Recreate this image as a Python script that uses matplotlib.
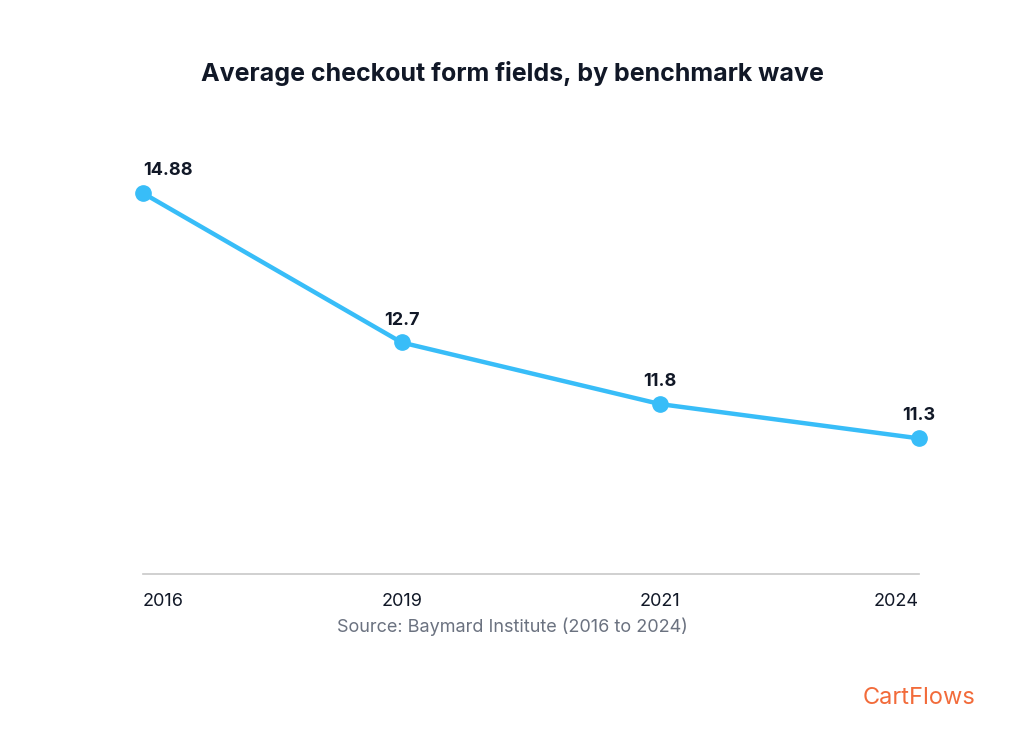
import matplotlib
matplotlib.use("Agg")
import matplotlib.pyplot as plt

years = ["2016", "2019", "2021", "2024"]
values = [14.88, 12.7, 11.8, 11.3]
labels = ["14.88", "12.7", "11.8", "11.3"]

plt.rcParams['font.family'] = ['Inter', 'DejaVu Sans']
fig = plt.figure(figsize=(10.24, 7.37), dpi=100)
ax = fig.add_axes([143/1024, 163/737, 776/1024, 424/737])
x = list(range(len(years)))
ax.plot(x, values, color="#38bdf8", lw=3.2, marker="o", ms=11, zorder=3, clip_on=False)
for xi, v, l in zip(x, values, labels):
    ax.annotate(l, (xi, v), xytext=(0, 10), textcoords="offset points", ha="left" if xi == 0 else "center",
                va="bottom", fontsize=13, fontweight="bold", color="#111827")
ax.set_xlim(0, 3)
ax.set_ylim(9.32, 15.51)
for s in ["top", "right", "left"]:
    ax.spines[s].set_visible(False)
ax.spines["bottom"].set_color("#c8c8c8")
ax.spines["bottom"].set_linewidth(1.2)
ax.set_yticks([])
ax.set_xticks(x)
ax.set_xticklabels(years, fontsize=13, color="#111827")
tl = ax.get_xticklabels()
tl[0].set_ha("left")
tl[-1].set_ha("right")
ax.tick_params(axis="x", length=0, pad=14)
fig.text(0.5, 1 - 73/737, "Average checkout form fields, by benchmark wave", ha="center", va="center",
         fontsize=18, fontweight="bold", color="#111827")
fig.text(0.5, 1 - 627/737, "Source: Baymard Institute (2016 to 2024)", ha="center", va="center",
         fontsize=13, color="#6b7280")
fig.text(975/1024, 1 - 698/737, "CartFlows", ha="right", va="center", fontsize=17, color="#f26b3a")
fig.savefig("out.png", dpi=100, facecolor="white")
